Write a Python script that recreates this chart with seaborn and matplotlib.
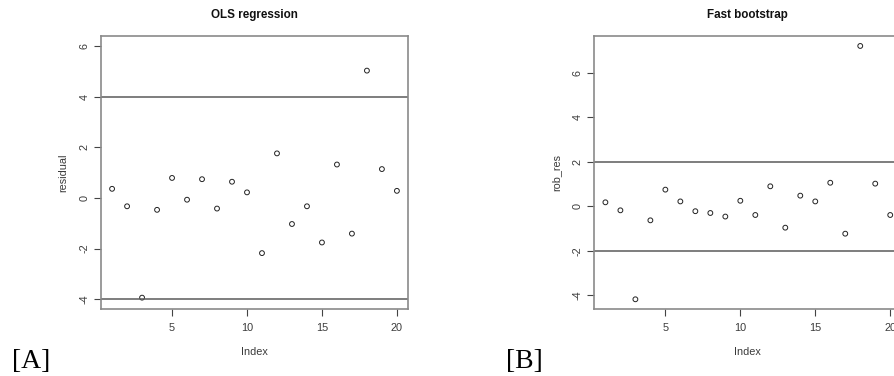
import matplotlib
matplotlib.use("Agg")
import matplotlib.pyplot as plt
import seaborn as sns
import numpy as np
import pandas as pd

# Data
index = list(range(1, 21))
ols_residual = [0.36, -0.33, -3.94, -0.47, 0.79, -0.07, 0.74, -0.42, 0.64, 0.22,
                -2.18, 1.76, -1.03, -0.33, -1.76, 1.32, -1.41, 5.03, 1.14, 0.28]
rob_res = [0.18, -0.18, -4.18, -0.63, 0.75, 0.22, -0.22, -0.30, -0.46, 0.25,
           -0.39, 0.90, -0.96, 0.48, 0.22, 1.06, -1.23, 7.21, 1.02, -0.39]
ols_cutoffs = [-4, 4]
rob_cutoffs = [-2, 2]
yticks = [-4, -2, 0, 2, 4, 6]
xticks = [5, 10, 15, 20]

sns.set_style("white")
plt.rcParams['font.family'] = ['Liberation Sans', 'DejaVu Sans']
plt.rcParams['axes.unicode_minus'] = False

fig = plt.figure(figsize=(8.95, 3.76), dpi=100)
ax_a = fig.add_axes([0.1125, 0.1774, 0.3437, 0.727])
ax_b = fig.add_axes([0.6637, 0.1774, 0.3437, 0.727])

text_col = '#3a3a3a'


def draw_panel(ax, y, cutoffs, ylim, title, ylabel):
    df = pd.DataFrame({"Index": index, "value": y})
    sns.scatterplot(data=df, x="Index", y="value", ax=ax, marker='o', s=12,
                    facecolors='none', edgecolor='#222222', linewidth=0.7)
    for c in cutoffs:
        ax.axhline(c, color='#5a5a5a', lw=1.1, zorder=1)
    ax.set_xlim(0.24, 20.76)
    ax.set_ylim(*ylim)
    ax.set_xticks(xticks)
    ax.set_yticks(yticks)
    ax.tick_params(axis='both', direction='out', length=5, width=0.8,
                   color='#444444', labelsize=7.8, labelcolor=text_col, pad=3,
                   bottom=True, left=True)
    ax.tick_params(axis='x', pad=5)
    for lab in ax.get_yticklabels():
        lab.set_rotation(90)
        lab.set_va('center')
    for sp in ax.spines.values():
        sp.set_color('#8a8a8a')
        sp.set_linewidth(1.2)
    ax.set_title(title, fontsize=8.4, fontweight='bold', pad=13, color='#111111')
    ax.set_xlabel("Index", fontsize=7.8, color=text_col, labelpad=10)
    ax.set_ylabel(ylabel, fontsize=7.8, color=text_col, labelpad=8)


draw_panel(ax_a, ols_residual, ols_cutoffs, (-4.4, 6.4), "OLS regression", "residual")
draw_panel(ax_b, rob_res, rob_cutoffs, (-4.63, 7.66), "Fast bootstrap", "rob_res")

fig.text(0.013, 0.02, "[A]", fontsize=20, family='Liberation Serif', color='black')
fig.text(0.565, 0.02, "[B]", fontsize=20, family='Liberation Serif', color='black')

fig.savefig("out.png", dpi=100)
